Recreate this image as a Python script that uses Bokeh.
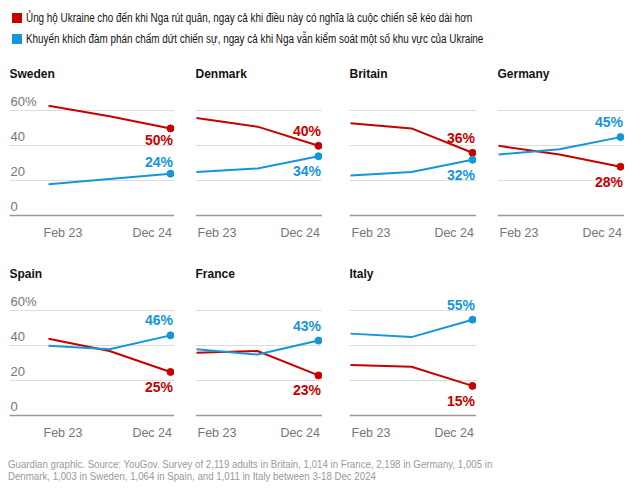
from bokeh.plotting import figure
from bokeh.layouts import column, row
from bokeh.models import Div, Range1d, FixedTicker, Span, Grid
from bokeh.embed import file_html
from bokeh.resources import INLINE
from bokeh.core.properties import value

# ---------------- data ----------------
countries = ["Sweden", "Denmark", "Britain", "Germany", "Spain", "France", "Italy"]
survey_months = [0, 11, 22]          # months after Feb 2023 (Feb 23, Jan 24, Dec 24)
x_tick_labels = ["Feb 23", "Dec 24"]
y_ticks = [0, 20, 40, 60]
y_tick_labels = ["0", "20", "40", "60%"]

sweden_support = [63, 57, 50]
sweden_negotiate = [18, 21, 24]
denmark_support = [56, 51, 40]
denmark_negotiate = [25, 27, 34]
britain_support = [53, 50, 36]
britain_negotiate = [23, 25, 32]
germany_support = [40, 35, 28]
germany_negotiate = [35, 38, 45]
spain_support = [44, 37, 25]
spain_negotiate = [40, 38, 46]
france_support = [36, 37, 23]
france_negotiate = [38, 35, 43]
italy_support = [29, 28, 17]
italy_negotiate = [47, 45, 55]

support_end_labels = ["50%", "40%", "36%", "28%", "25%", "23%", "15%"]
negotiate_end_labels = ["24%", "34%", "32%", "45%", "46%", "43%", "55%"]

legend_support = "Ủng hộ Ukraine cho đến khi Nga rút quân, ngay cả khi điều này có nghĩa là cuộc chiến sẽ kéo dài hơn"
legend_negotiate = "Khuyến khích đàm phán chấm dứt chiến sự, ngay cả khi Nga vẫn kiểm soát một số khu vực của Ukraine"
source_lines = [
    "Guardian graphic. Source: YouGov. Survey of 2,119 adults in Britain, 1,014 in France, 2,198 in Germany, 1,005 in",
    "Denmark, 1,003 in Sweden, 1,064 in Spain, and 1,011 in Italy between 3-18 Dec 2024",
]

support_series = [sweden_support, denmark_support, britain_support, germany_support,
                  spain_support, france_support, italy_support]
negotiate_series = [sweden_negotiate, denmark_negotiate, britain_negotiate, germany_negotiate,
                    spain_negotiate, france_negotiate, italy_negotiate]

# ---------------- style / layout ----------------
RED = "#c70000"
BLUE = "#1496d8"
GRID = "#dcdcdc"
BASE = "#999999"
TICK_C = "#767676"
TXT = "#121212"
FONT = "Liberation Sans"
HFONT = "'Liberation Sans',Arial,sans-serif"

DATA_W = 122.0
PX_X = DATA_W / (survey_months[-1] - survey_months[0])
PX_Y = 1.742
FIG_H = 185
ZERO_FROM_TOP = 153
RIGHT_PAD = 4
col_gap = [9, 21, 27, 21]
col_left_pad = [39, 1, 1, 1]
inward_labels = {"Sweden"}


def panel(idx, col, top_border):
    name = countries[idx]
    sup = support_series[idx]
    neg = negotiate_series[idx]
    lp = col_left_pad[col]
    fw = lp + DATA_W + RIGHT_PAD
    x0 = survey_months[0] - lp / PX_X
    x1 = survey_months[-1] + RIGHT_PAD / PX_X
    y1 = ZERO_FROM_TOP / PX_Y
    y0 = -(FIG_H - ZERO_FROM_TOP) / PX_Y
    p = figure(width=int(round(col_gap[col] + fw)), height=FIG_H + top_border,
               x_range=Range1d(x0, x1), y_range=Range1d(y0, y1),
               x_axis_type=None, y_axis_type=None,
               toolbar_location=None, output_backend="svg",
               min_border=0, min_border_left=col_gap[col], min_border_top=top_border,
               outline_line_color=None)
    p.add_layout(Grid(dimension=1, ticker=FixedTicker(ticks=y_ticks[1:]),
                      grid_line_color=GRID, grid_line_width=1))
    p.add_layout(Span(location=y_ticks[0], dimension="width", line_color=BASE, line_width=1.5))

    # title
    p.text(x=[x0], y=[81.4], text=[name], text_font=value(FONT), text_font_style="bold",
           text_font_size="12px", text_color=TXT, text_baseline="middle", text_align="left")

    # y tick labels (first column only)
    if col == 0:
        p.text(x=[x0] * len(y_ticks), y=y_ticks, text=y_tick_labels, text_font=value(FONT),
               text_font_size="13px", text_color=TICK_C, text_baseline="middle",
               text_align="left", x_offset=1, y_offset=-9.5)

    # x labels
    p.text(x=[survey_months[0]], y=[-10], text=[x_tick_labels[0]], text_font=value(FONT),
           text_font_size="12.5px", text_color=TICK_C, text_baseline="middle",
           text_align="left", x_offset=-5 if col == 0 else 1)
    p.text(x=[survey_months[-1]], y=[-10], text=[x_tick_labels[1]], text_font=value(FONT),
           text_font_size="12.5px", text_color=TICK_C, text_baseline="middle",
           text_align="right", x_offset=1.5)

    # lines
    p.line(survey_months, sup, line_color=RED, line_width=2)
    p.line(survey_months, neg, line_color=BLUE, line_width=2)
    p.scatter([survey_months[-1]], [sup[-1]], size=7, color=RED)
    p.scatter([survey_months[-1]], [neg[-1]], size=7, color=BLUE)

    sup_up = sup[-1] > neg[-1]
    off = 15
    if name in inward_labels:
        sup_up = not sup_up
        off = 11.5
    for vals, lab, col_c, up in ((sup, support_end_labels[idx], RED, sup_up),
                                 (neg, negotiate_end_labels[idx], BLUE, not sup_up)):
        p.text(x=[survey_months[-1]], y=[vals[-1]], text=[lab], text_font=value(FONT),
               text_font_style="bold", text_font_size="14px", text_color=col_c,
               text_align="right", text_baseline="middle",
               x_offset=2.5, y_offset=-off if up else off)
    return p


row1 = row(*[panel(i, i, 0) for i in range(4)])
row2 = row(*[panel(4 + i, i, 15) for i in range(3)])


def sq(c):
    return (f'<span style="display:inline-block;width:10px;height:10px;background:{c};'
            f'margin-right:4px;vertical-align:-1px"></span>')


def narrow(txt, scale):
    return (f'<span style="display:inline-block;transform:scaleX({scale});'
            f'transform-origin:0 50%">{txt}</span>')


legend_html = (
    f'<div style="font-family:{HFONT};font-size:12px;color:{TXT};line-height:21px;'
    f'padding-left:7px;padding-top:3px;white-space:nowrap">'
    f'<div>{sq(RED)}{narrow(legend_support, 0.823)}</div>'
    f'<div>{sq(BLUE)}{narrow(legend_negotiate, 0.823)}</div></div>'
)
legend = Div(text=legend_html, width=620, height=52)

footer_html = (
    f'<div style="font-family:{HFONT};font-size:11px;color:#999999;line-height:12px;'
    f'padding-top:6px;padding-left:3px;white-space:nowrap">'
    + "".join(f'<div style="height:12px">{narrow(s, 0.88)}</div>' for s in source_lines)
    + '</div>'
)
footer = Div(text=footer_html, width=620, height=35)

layout = column(legend, row1, row2, footer)

open("out.html", "w").write(file_html(layout, INLINE))
